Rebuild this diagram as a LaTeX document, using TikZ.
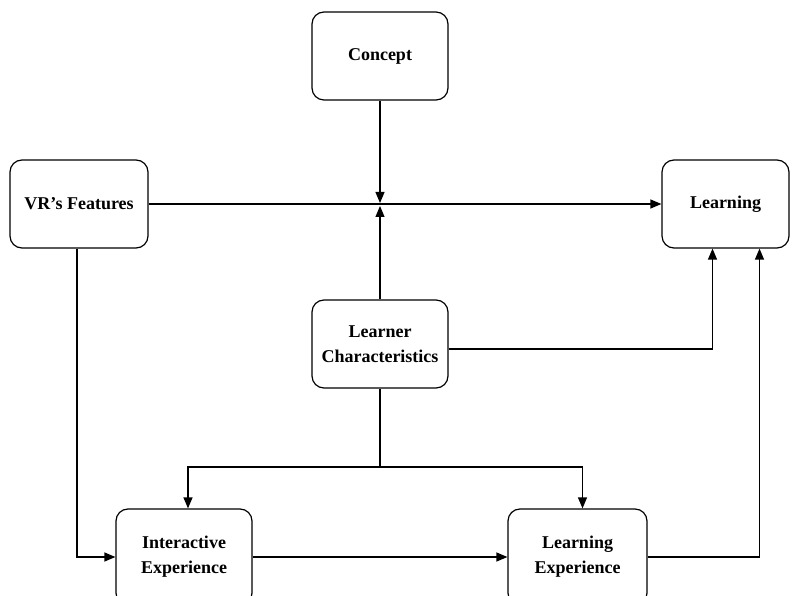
\documentclass[tikz,border=0pt]{standalone}
\usepackage{fontspec}
\setmainfont{Liberation Serif}
\usetikzlibrary{positioning, arrows.meta}

\tikzset{
  box/.style={draw, rounded corners=12pt, line width=1.2pt,
    minimum width=136pt, minimum height=88pt, align=center,
    font=\fontsize{18}{25}\selectfont\bfseries},
  link/.style={line width=1.2pt, -{Triangle[length=11pt,width=9pt]}},
}

\begin{document}
\begin{tikzpicture}[x=1pt,y=1pt]
  \useasboundingbox (0,0) rectangle (792,595);
  \node[box] (concept) at (380,539) {Concept};
  \node[box, minimum width=138pt] (features) at (79,391) {VR's Features};
  \node[box, minimum width=127pt] (learning) at (725.5,391) {Learning};
  \node[box] (learner) at (380,251) {Learner\\Characteristics};
  \node[box, minimum height=96pt] (interactive) at (184,38) {Interactive\\Experience};
  \node[box, minimum width=139pt, minimum height=96pt] (learnexp) at (577.5,38) {Learning\\Experience};
  % junctions
  \coordinate (cross) at (380,391);
  \coordinate (split) at (380,128);

  \draw[link] (features) -- (learning);
  \draw[link] (concept) -- ([yshift=1pt]cross);
  \draw[link] (learner) -- ([yshift=-2pt]cross);
  \draw[link] ([yshift=-5pt]learner.east) -| ([xshift=-13pt]learning.south);
  \draw[line width=1.2pt] (learner) -- (split);
  \draw[link] (split) -| ([xshift=4pt]interactive.north);
  \draw[link] (split) -| ([xshift=5pt]learnexp.north);
  \draw[link] ([xshift=-2pt]features.south) |- (interactive.west);
  \draw[link] (interactive) -- (learnexp);
  \draw[link] (learnexp.east) -| ([xshift=34pt]learning.south);
\end{tikzpicture}
\end{document}
